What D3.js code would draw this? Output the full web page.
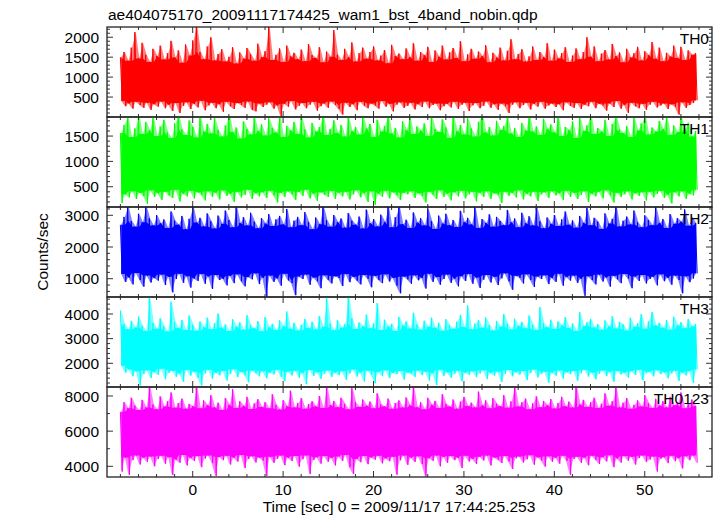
<!DOCTYPE html>
<html><head><meta charset="utf-8">
<script src="https://cdn.jsdelivr.net/npm/d3@7/dist/d3.min.js"></script>
<style>
body{margin:0;background:#fff}
svg{display:block}
text{font-family:"Liberation Sans",Arial,Helvetica,sans-serif;fill:#000}
</style>
</head><body>
<svg id="chart" width="717" height="516"></svg>
<script>
const titleText = "ae404075170_20091117174425_wam1_bst_4band_nobin.qdp";
const xLabelText = "Time [sec] 0 = 2009/11/17 17:44:25.253";
const yLabelText = "Counts/sec";
const panelNames = ["TH0", "TH1", "TH2", "TH3", "TH0123"];
const panelColors = ["#ff0000", "#00ff00", "#0000ff", "#00ffff", "#ff00ff"];
const xTickLabels = [0, 10, 20, 30, 40, 50];

// Light-curve samples: each 0.4 s bin holds its upper
// excursion (first) and its lower excursion (0.2 s later).
const binStart = -8.0;
const binStep = 0.4;

const th0Hi = [1500,1630,1410,1740,2130,1470,1860,1560,1380,1710,
1530,1790,1440,1600,1910,1490,1670,1360,1820,1540,
1920,2300,1630,1450,1770,2000,1420,1580,1700,1390,
1510,1750,1340,1620,1460,1730,1570,1410,1840,1500,
1650,2300,1430,1560,1720,1380,1790,1520,1610,1450,
1690,1400,1830,1550,1480,1750,1370,1640,1510,2180,
1560,1430,1710,1500,1870,1390,1600,1740,1460,1630,
1770,1420,1540,1680,1350,1810,1530,1590,1450,1720,
1500,1850,1410,1630,1550,1760,1380,1670,1510,1790,
1440,1620,1730,1480,1900,1400,1570,1710,1460,1640,
1530,1800,1370,1610,1490,1740,1420,1660,1950,1450,
1580,1700,1390,1520,1770,1430,1630,1500,1850,1410,
1690,1470,1600,1750,1380,1540,1720,1450,1630,2000,
1510,1770,1400,1590,1680,1440,1830,1530,1620,1370,
1710,1490,1600,1760,1420,1650,1550,1880,1460,1740,
1400,1610,1520,1790,1480,1760,1430,1670,1560,1600];
const th0Lo = [400,270,340,210,380,300,230,360,180,320,
260,390,220,310,150,350,100,280,370,200,
330,240,410,170,290,360,220,320,130,380,
270,200,350,300,230,390,180,140,340,250,
310,370,210,290,20,330,260,400,190,280,
350,220,310,380,160,270,340,230,390,300,
200,60,360,250,320,170,380,280,220,340,
290,210,400,260,330,140,310,370,230,280,
360,190,320,250,390,220,300,340,170,270,
330,240,380,200,310,360,150,290,350,220,
280,390,230,320,180,340,270,100,310,370,
220,300,360,190,330,260,380,210,290,340,
250,320,170,370,280,230,350,200,310,270,
380,220,330,290,160,340,250,400,210,300,
100,360,270,220,330,180,310,380,240,290,
340,200,320,260,60,370,230,300,350,420];

const th1Hi = [1560,1720,1900,1480,1650,1930,1540,1780,1610,1890,
1500,1690,1820,1570,1460,1750,1920,1630,1520,1810,
1680,1470,1900,1590,1740,1550,1860,1620,1490,1710,
1940,1580,1670,1450,1790,1640,1530,1880,1600,1730,
1510,1850,1660,1570,1920,1480,1700,1610,1780,1540,
1900,1630,1470,1760,1590,1680,1950,1520,1640,1810,
1560,1720,1490,1870,1600,1680,1530,1910,1650,1740,
1480,1820,1590,1700,1930,1550,1660,1470,1790,1620,
1880,1540,1690,1610,1750,1500,1900,1640,1580,1830,
1670,1460,1920,1600,1720,1530,1850,1650,1490,1780,
1940,1570,1680,1510,1800,1620,1700,1890,1550,1660,
1480,1760,1610,1930,1590,1690,1520,1840,1640,1730,
1570,1900,1500,1680,1620,1790,1460,1870,1600,1710,
1950,1540,1660,1590,1820,1500,1740,1910,1630,1560,
1700,1480,1860,1610,1750,1930,1530,1670,1590,1800,
1640,1900,1520,1710,1580,1880,1650,1760,1490,1600];
const th1Lo = [180,350,290,410,260,380,320,165,430,300,
370,240,400,330,280,440,210,360,310,420,
270,390,340,230,410,300,380,250,430,320,
360,200,400,290,340,440,260,370,310,390,
280,420,330,190,380,300,410,350,240,400,
320,440,270,360,220,390,340,300,420,260,
380,310,400,250,350,430,290,370,200,410,
145,360,300,420,270,390,330,240,380,350,
410,280,370,320,190,400,340,260,430,300,
360,230,390,310,420,270,350,400,210,380,
300,410,260,370,340,180,400,320,380,290,
430,250,360,310,400,220,350,390,280,410,
330,370,240,420,300,380,260,340,410,200,
360,310,400,270,430,330,190,380,300,350,
410,250,370,320,390,230,400,290,360,420,
280,340,170,390,310,410,260,360,330,440];

const th2Hi = [2700,2950,3300,2820,2640,3050,2780,3300,2900,2680,
3010,2750,2870,2600,3120,2830,2700,2980,2560,2890,
3300,2770,2920,2650,3060,2810,2580,2990,2730,3150,
2850,2620,3300,2760,2940,2680,3080,2800,2590,2910,
2740,3040,2660,2870,2980,2710,3200,2620,2830,2950,
2690,3100,2790,2560,2930,2720,3300,2850,2640,3010,
2780,2900,2610,3070,2830,2700,2960,2580,3180,2750,
2880,2650,3020,2790,3300,2620,2940,3300,2720,2860,
2600,3090,2770,2910,2680,3210,2820,2570,2990,2740,
3050,2690,2850,2630,3140,2790,2920,2710,3260,2600,
2880,2760,3030,2640,2950,2820,2690,3170,2780,2900,
2620,3080,2750,2970,2680,3300,2810,2590,2930,2730,
3010,2660,2870,3120,2700,2840,2610,2980,2760,3230,
2690,2920,2800,2570,3060,2740,2890,3300,2650,2830,
2960,2710,3150,2780,2620,3000,2850,2690,3270,2760,
2880,2600,3040,2730,2910,2800,3190,2670,2940,2750];
const th2Lo = [1150,900,1040,820,1180,960,750,1100,880,1020,
940,1130,800,1060,570,990,1160,870,1080,720,
1010,930,1150,840,1070,680,1120,960,1000,790,
1090,860,1140,920,760,1050,980,1170,830,1030,
440,1100,900,1010,780,1160,950,860,480,1070,
990,1130,810,1040,920,700,1110,970,850,1080,
1020,770,1150,890,1060,940,820,1120,1000,730,
1090,960,860,1140,910,1030,780,540,1070,980,
840,1110,950,1020,690,1160,900,1050,810,990,
1130,870,1000,760,1080,930,1150,840,1040,710,
970,1120,880,1060,800,1010,1170,920,650,1090,
1030,850,1140,960,740,1070,990,1110,830,1020,
900,1160,780,1050,940,1100,870,1000,460,1080,
960,820,1130,910,1040,750,1090,980,860,1150,
1010,700,1070,930,1120,850,990,1060,790,1140,
920,1030,810,1100,960,540,1080,890,1010,1170];

const th3Hi = [4150,3600,3380,3720,3450,3900,3520,3310,4700,3640,
3400,3830,3500,3290,4500,3680,3430,3760,3350,3940,
3560,3320,3700,3470,3850,3380,3620,4020,3440,3580,
3310,3790,3490,3660,3360,3950,3530,3420,3710,3300,
3870,3460,3600,3350,3740,3510,4100,3400,3640,3330,
3560,3800,3430,3690,3370,3920,3480,4690,3610,3340,
3750,3450,3580,4750,3820,3390,3660,3500,3980,3420,
3620,4440,3350,3770,3490,3600,3310,3880,3540,3700,
3410,4050,3570,3360,3730,3480,3850,3440,3640,3320,
3790,3530,3400,3690,3960,3470,4350,3380,3610,3750,
3440,3860,3550,3330,3720,3490,4000,3600,3370,3810,
3520,3680,3420,3940,3560,3350,4280,3630,3460,3770,
3390,3700,3540,3870,3430,3620,3310,4080,3510,3660,
3800,3450,3590,3360,3740,3500,3910,3410,3680,3570,
3330,3850,3480,3620,3990,3400,3710,4080,3530,3640,
3440,3760,3360,3890,3550,3670,3420,3800,3500,3600];
const th3Lo = [1900,1620,1750,1480,1680,1100,1560,1720,1400,1640,
1530,1780,1350,1610,1700,1450,1580,1250,1730,1500,
1660,1420,1100,1590,1740,1380,1620,1510,1690,1300,
1570,1760,1440,1650,1520,1230,1710,1600,1470,1680,
1390,1620,1550,1740,1460,1280,1660,1510,1700,1420,
1600,1150,1730,1490,1640,1370,1580,1710,1450,1620,
1520,1680,1330,1590,1750,1460,1620,1260,1700,1540,
1190,1650,1480,1720,1400,1610,1560,1690,1340,1630,
1570,1450,1710,1520,1660,1300,1600,1120,1740,1490,
1640,1410,1580,1700,1270,1620,1530,1680,1440,1590,
1720,1360,1610,1500,1670,1240,1580,1730,1470,1640,
1540,1690,1320,1600,1750,1430,1570,1660,1210,1620,
1500,1710,1380,1640,1560,1690,1290,1600,1740,1460,
1630,1350,1580,1710,1480,1650,1250,1690,1550,1610,
1420,1680,1530,1740,1310,1600,1660,1470,1720,1560,
1640,1390,1590,1700,1280,1620,1510,1680,1200,1750];

const th0123Hi = [7100,7650,7300,7900,7450,7200,7780,7350,8600,7520,
7250,7980,7400,7700,8200,7330,7600,7850,7280,7550,
7420,8600,7300,7750,7480,8050,7350,7620,7200,7880,
7500,8400,7320,7700,7440,7950,7260,7580,7820,7380,
7650,7300,8100,7500,7230,7760,7420,8300,7350,7600,
7880,7270,7540,7700,7400,8000,7310,8600,7480,7720,
7360,7900,7550,7250,8450,7630,7380,7800,7450,7680,
7300,8150,7520,7400,7850,7270,7600,7750,7340,7920,
7480,8550,7360,7650,7240,7900,7500,7720,7310,8100,
7550,7400,7800,7280,7680,7950,7430,7620,7350,8250,
7470,7750,7300,7880,7560,7420,8050,7330,7700,8600,
7400,7640,7850,7250,7580,7980,7360,7720,7480,7830,
7290,7600,7950,7420,7680,7340,8600,7520,7780,7380,
7650,7900,7310,7560,8150,7440,7700,8500,7350,7620,
7880,7270,7500,7750,7400,8050,7580,7320,7840,7460,
7700,7350,7950,7480,7620,8200,7300,7560,7800,7420];
const th0123Lo = [3700,4500,3510,4350,4620,4100,4480,4250,4560,4000,
4420,4600,4150,4520,3510,4380,4200,4650,4050,4470,
4300,4580,3950,4440,4620,4180,3450,4530,4350,4600,
4100,4490,4270,4640,3900,4410,4570,4220,4500,4330,
3450,4550,4200,4430,4610,4060,4480,4300,4590,3980,
4400,4620,3560,4360,4510,4150,4580,4260,4470,4050,
4560,4310,4640,3950,3560,4420,4230,4590,4120,4500,
4380,4600,4170,4450,4290,4550,3520,4340,4610,4080,
4490,4250,4570,4130,3420,4460,4310,4620,4000,4530,
4200,4580,4350,4480,3900,4600,4270,4420,4140,4550,
4330,4610,4050,4500,4380,4190,4590,4280,3850,4460,
4560,4220,4400,4630,4090,4510,4340,3980,4570,4260,
4480,4150,4600,4310,3510,4420,4550,4200,4490,4060,
4600,4370,4130,4520,4280,4630,3950,4450,4210,4580,
4320,4540,4100,4470,4610,4240,4390,4560,3700,4430,
4510,4180,4600,4290,4460,3880,4570,4350,4620,4200];

const seriesHi = [th0Hi, th1Hi, th2Hi, th3Hi, th0123Hi];
const seriesLo = [th0Lo, th1Lo, th2Lo, th3Lo, th0123Lo];

const xRange = [-9.48, 57.44];
const yRanges = [[0, 2257], [100, 1876], [423, 3262], [1039, 4689], [3392, 8511]];
const yTickLabels = [[500, 1000, 1500, 2000], [500, 1000, 1500], [1000, 2000, 3000], [2000, 3000, 4000], [4000, 6000, 8000]];
const yMinorStep = [100, 100, 200, 200, 1000];

// ---------- drawing ----------
const svg = d3.select("#chart");
const W = 717, H = 516;
const plotLeft = 107, plotRight = 712, plotTop = 27, panelH = 90;
const frameColor = "#222";

const x = d3.scaleLinear().domain(xRange).range([plotLeft, plotRight]);

svg.append("rect").attr("width", W).attr("height", H).attr("fill", "#fff");

svg.append("text").attr("x", 108).attr("y", 20).attr("font-size", 15.5).text(titleText);

const xMinor = d3.range(-8, 57, 2).filter(v => v % 10 !== 0);

panelNames.forEach((name, i) => {
  const top = plotTop + i * panelH, bottom = top + panelH;
  const y = d3.scaleLinear().domain(yRanges[i]).range([bottom, top]);
  const g = svg.append("g");
  const hi = seriesHi[i], lo = seriesLo[i];
  const n = hi.length;

  const clipId = "clip" + i;
  svg.append("clipPath").attr("id", clipId)
    .append("rect").attr("x", plotLeft).attr("y", top).attr("width", plotRight - plotLeft).attr("height", panelH);
  const layer = g.append("g").attr("clip-path", `url(#${clipId})`);

  // light envelope: full excursion range of each bin (antialiased fringe)
  const env = hi.map((v, k) => ({ t: binStart + binStep * k + binStep / 4, top: v, bot: lo[k] }));
  layer.append("path").datum(env)
    .attr("fill", panelColors[i]).attr("fill-opacity", 0.5)
    .attr("d", d3.area().x(d => x(d.t)).y0(d => y(d.bot)).y1(d => y(d.top)));

  // dense band where the noisy curve overlaps itself: between the local
  // (3-bin) minimum of the upper excursions and maximum of the lower ones
  const core = hi.map((v, k) => {
    const a = Math.max(0, k - 1), b = Math.min(n, k + 2);
    return {
      t: binStart + binStep * k + binStep / 4,
      top: d3.min(hi.slice(a, b)),
      bot: d3.max(lo.slice(a, b))
    };
  });
  layer.append("path").datum(core)
    .attr("fill", panelColors[i])
    .attr("d", d3.area().x(d => x(d.t)).y0(d => y(d.bot)).y1(d => y(d.top)));

  // interleave upper / lower samples into a single time-ordered series
  const pts = [];
  hi.forEach((v, k) => {
    const t = binStart + binStep * k;
    pts.push([t, v]);
    pts.push([t + binStep / 2, lo[k]]);
  });
  layer.append("path").datum(pts)
    .attr("fill", "none")
    .attr("stroke", panelColors[i])
    .attr("stroke-width", 1)
    .attr("stroke-linejoin", "bevel")
    .attr("d", d3.line().x(d => x(d[0])).y(d => y(d[1])));

  // ticks (inward on all four sides)
  const tk = g.append("g").attr("stroke", "#333").attr("stroke-width", 1);
  const yMin = Math.ceil(yRanges[i][0] / yMinorStep[i]) * yMinorStep[i];
  const yMinorTicks = d3.range(yMin, yRanges[i][1], yMinorStep[i]).filter(v => !yTickLabels[i].includes(v));
  yTickLabels[i].forEach(v => {
    tk.append("line").attr("x1", plotLeft).attr("x2", plotLeft + 6).attr("y1", y(v)).attr("y2", y(v));
    tk.append("line").attr("x1", plotRight).attr("x2", plotRight - 6).attr("y1", y(v)).attr("y2", y(v));
  });
  yMinorTicks.forEach(v => {
    tk.append("line").attr("x1", plotLeft).attr("x2", plotLeft + 3).attr("y1", y(v)).attr("y2", y(v));
    tk.append("line").attr("x1", plotRight).attr("x2", plotRight - 3).attr("y1", y(v)).attr("y2", y(v));
  });
  xTickLabels.forEach(v => {
    tk.append("line").attr("x1", x(v)).attr("x2", x(v)).attr("y1", top).attr("y2", top + 6);
    tk.append("line").attr("x1", x(v)).attr("x2", x(v)).attr("y1", bottom).attr("y2", bottom - 6);
  });
  xMinor.forEach(v => {
    tk.append("line").attr("x1", x(v)).attr("x2", x(v)).attr("y1", top).attr("y2", top + 3);
    tk.append("line").attr("x1", x(v)).attr("x2", x(v)).attr("y1", bottom).attr("y2", bottom - 3);
  });

  // frame
  g.append("rect").attr("x", plotLeft).attr("y", top).attr("width", plotRight - plotLeft).attr("height", panelH)
    .attr("fill", "none").attr("stroke", frameColor).attr("stroke-width", 1.3);

  // y tick labels
  yTickLabels[i].forEach(v => {
    g.append("text").attr("x", 99).attr("y", y(v)).attr("dy", "0.36em")
      .attr("text-anchor", "end").attr("font-size", 15.5).text(v);
  });

  // panel name
  g.append("text").attr("x", 709).attr("y", top + 17).attr("text-anchor", "end")
    .attr("font-size", 15.5).text(name);
});

// x tick labels
xTickLabels.forEach(v => {
  svg.append("text").attr("x", x(v)).attr("y", 495).attr("text-anchor", "middle")
    .attr("font-size", 15.5).text(v);
});

svg.append("text").attr("x", 399).attr("y", 512).attr("text-anchor", "middle")
  .attr("font-size", 15.5).text(xLabelText);

svg.append("text").attr("transform", "translate(48,252) rotate(-90)").attr("text-anchor", "middle")
  .attr("font-size", 15.5).text(yLabelText);
</script>
</body></html>
